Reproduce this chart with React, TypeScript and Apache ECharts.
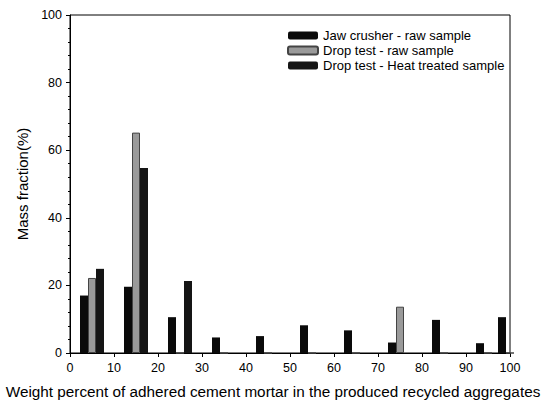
import React, { useEffect, useRef } from "react";
import * as echarts from "echarts";

const groupCenters = [5, 15, 25, 35, 45, 55, 65, 75, 85, 95, 100];
const jawRaw = [17, 19.6, 10.6, 4.6, 5.0, 8.2, 6.7, 3.1, 9.8, 2.9, 10.6];
const dropRaw = [22.2, 65.2, 0, 0, 0, 0, 0, 13.7, 0, 0, 0];
const dropHeat = [24.9, 54.7, 21.3, 0, 0, 0, 0, 0, 0, 0, 0];
const seriesNames = ["Jaw crusher - raw sample", "Drop test - raw sample", "Drop test - Heat treated sample"];
const xTitle = "Weight percent of adhered cement mortar in the produced recycled aggregates";
const yTitle = "Mass fraction(%)";

const FONT = "Liberation Sans, Arial, sans-serif";

export default function App() {
  const ref = useRef<HTMLDivElement>(null);
  useEffect(() => {
    if (!ref.current) return;
    const chart = echarts.init(ref.current, undefined, { renderer: "svg" });
    const toData = (vals: number[]) => groupCenters.map((x, i) => [x, vals[i]]);
    const barBase = { type: "bar" as const, barWidth: 8, barGap: "0%" };
    chart.setOption({
      animation: false,
      backgroundColor: "#fff",
      textStyle: { fontFamily: FONT, color: "#000" },
      grid: {
        left: 70, right: 36, top: 15, bottom: 50,
        containLabel: false, outerBoundsMode: "none",
        show: true, borderColor: "#000", borderWidth: 1,
      },
      legend: {
        left: 282,
        top: 24,
        orient: "vertical",
        itemWidth: 30,
        itemHeight: 8,
        itemGap: 2,
        textStyle: { fontSize: 13, color: "#000", fontFamily: FONT },
        data: seriesNames,
      },
      graphic: [
        {
          type: "text",
          left: "center",
          top: 384,
          style: { text: xTitle, fontSize: 15.3, fill: "#000", fontFamily: FONT },
        },
      ],
      xAxis: {
        type: "value",
        min: 0,
        max: 100,
        interval: 10,
        axisLine: { lineStyle: { color: "#000" } },
        axisTick: { show: true, length: 4, lineStyle: { color: "#000" } },
        axisLabel: { fontSize: 12.5, color: "#000", margin: 8 },
        splitLine: { show: false },
      },
      yAxis: {
        type: "value",
        min: 0,
        max: 100,
        interval: 20,
        name: yTitle,
        nameLocation: "middle",
        nameGap: 40,
        nameTextStyle: { fontSize: 15, color: "#000", fontFamily: FONT },
        axisLine: { show: true, lineStyle: { color: "#000" } },
        axisTick: { show: true, length: 4, lineStyle: { color: "#000" } },
        minorTick: { show: true, splitNumber: 5, length: 2, lineStyle: { color: "#000" } },
        axisLabel: { fontSize: 12.5, color: "#000", margin: 8 },
        splitLine: { show: false },
      },
      series: [
        { ...barBase, name: seriesNames[0], data: toData(jawRaw), itemStyle: { color: "#0a0a0a" } },
        { ...barBase, name: seriesNames[1], data: toData(dropRaw), itemStyle: { color: "#9a9a9a", borderColor: "#444", borderWidth: 1 } },
        { ...barBase, name: seriesNames[2], data: toData(dropHeat), itemStyle: { color: "#151515" } },
      ],
    });
    return () => chart.dispose();
  }, []);
  return <div ref={ref} style={{ position: "fixed", left: 0, top: 0, width: 546, height: 403 }} />;
}
